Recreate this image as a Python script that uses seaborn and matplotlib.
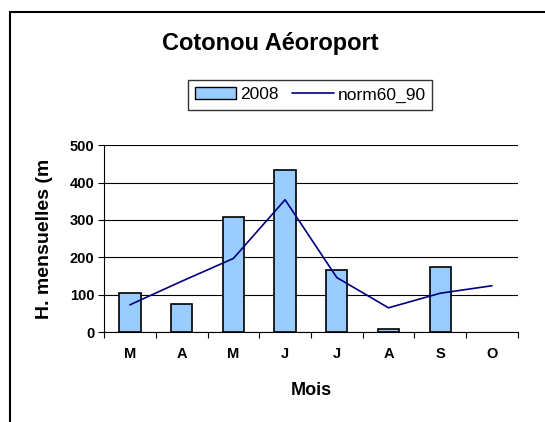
import numpy as np
import pandas as pd
import matplotlib.pyplot as plt
import seaborn as sns
from matplotlib.patches import Rectangle, Patch
from matplotlib.lines import Line2D

# Data
mois = ['Mar', 'Avr', 'Mai', 'Jun', 'Jul', 'Aou', 'Sep', 'Oct']
mois_lettres = ['M', 'A', 'M', 'J', 'J', 'A', 'S', 'O']
pluie_2008 = [105, 76, 309, 434, 165, 8, 173, np.nan]
norm60_90 = [73, 136, 197, 354, 146, 65, 104, 124]
yticks = [0, 100, 200, 300, 400, 500]

sns.set_style("white")
plt.rcParams['font.family'] = ['Liberation Sans', 'DejaVu Sans']
plt.rcParams['text.color'] = 'black'
plt.rcParams['axes.labelcolor'] = 'black'
plt.rcParams['xtick.color'] = 'black'
plt.rcParams['ytick.color'] = 'black'

df = pd.DataFrame({'mois': mois, 'pluie': pluie_2008, 'norm': norm60_90})

fig = plt.figure(figsize=(5.45, 4.22), dpi=100)
ax = fig.add_axes([0.191, 0.213, 0.759, 0.443])

sns.barplot(data=df, x='mois', y='pluie', color='#99ccff', saturation=1,
            width=0.41, edgecolor='black', linewidth=1.2, ax=ax)
ax.plot(range(len(mois)), df['norm'], color='#000080', linewidth=1.2)

ax.set_xlim(-0.5, len(mois) - 0.5)
ax.set_ylim(0, 500)
ax.set_yticks(yticks)
ax.set_yticklabels([str(v) for v in yticks], fontsize=10.5, fontweight='bold')
ax.set_xticks(range(len(mois)))
ax.set_xticklabels(mois_lettres, fontsize=10.5, fontweight='bold')
ax.set_xticks([i - 0.5 for i in range(len(mois) + 1)], minor=True)
ax.tick_params(axis='x', which='major', length=0, pad=11)
ax.tick_params(axis='x', which='minor', length=4, width=0.8, direction='out', bottom=True)
ax.tick_params(axis='y', length=4, width=0.8, direction='out', left=True, pad=3)

ax.grid(True, axis='y', color='black', linewidth=0.8)
ax.set_axisbelow(True)
for side in ['top', 'right']:
    ax.spines[side].set_visible(False)
for side in ['left', 'bottom']:
    ax.spines[side].set_color('black')
    ax.spines[side].set_linewidth(0.8)

ax.set_xlabel('Mois', fontsize=13, fontweight='bold', labelpad=15)
ax.set_ylabel('H. mensuelles (m', fontsize=14, fontweight='bold', labelpad=12)

fig.text(0.496, 0.897, 'Cotonou Aéoroport', ha='center', va='center',
         fontsize=17, fontweight='bold')

handles = [Patch(facecolor='#99ccff', edgecolor='black', linewidth=1),
           Line2D([0], [0], color='#000080', linewidth=1.2)]
fig.legend(handles, ['2008', 'norm60_90'], loc='center', bbox_to_anchor=(0.569, 0.775),
           ncol=2, frameon=True, fancybox=False, edgecolor='black', fontsize=12.5,
           handlelength=2.4, handletextpad=0.2, columnspacing=0.8, borderpad=0.4)

# outer chart-area frame (right and bottom cut off in the reference)
fig.patches.append(Rectangle((10 / 545, -0.1), 1.2, 1 - 12 / 422 + 0.1,
                             transform=fig.transFigure, fill=False,
                             edgecolor='black', linewidth=1.5))

plt.savefig('out.png', dpi=100)
